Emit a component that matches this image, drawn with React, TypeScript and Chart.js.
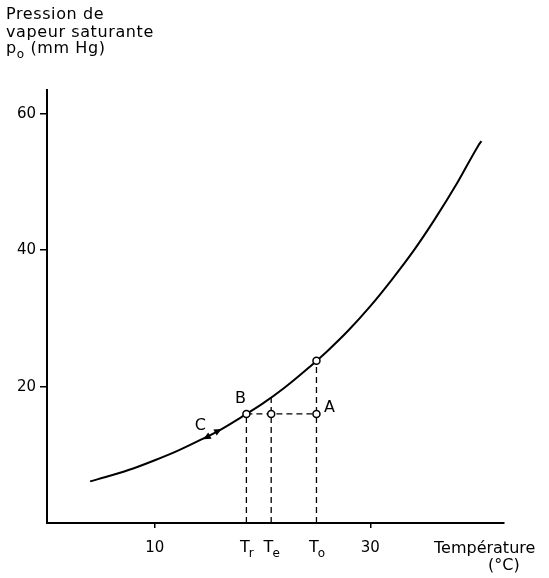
import React, { useEffect, useRef } from 'react';
import { Chart, registerables } from 'chart.js';

Chart.register(...registerables);

// Saturation vapour pressure curve
const temperatures = [4, 6, 8, 10, 12, 14, 16, 18, 20, 22, 24, 26, 28, 30, 32, 34, 36, 38, 40, 40.3];
const pressures = [6.1, 7.0, 8.0, 9.2, 10.5, 12.0, 13.6, 15.5, 17.5, 19.8, 22.4, 25.2, 28.3, 31.8, 35.7, 39.9, 44.6, 49.7, 55.3, 56.0];

// Axis ticks
const xTickValues = [10, 30];
const yTickValues = [20, 40, 60];

// Marked temperatures and pressures
const T_r = 18.5;
const T_e = 20.8;
const T_o = 25.0;
const p_A = 16.0;
const p_To = 23.8;
const p_TeCurve = 18.4;

const markerTicks = [
  { main: 'T', sub: 'r', x: T_r },
  { main: 'T', sub: 'e', x: T_e },
  { main: 'T', sub: 'o', x: T_o },
];

const circlePoints = [
  { x: T_r, y: p_A },
  { x: T_e, y: p_A },
  { x: T_o, y: p_A },
  { x: T_o, y: p_To },
];

// Arrowheads on the curve near C: [tailX, tailY, tipX, tipY]
const arrows = [
  [15.2, 12.9, 14.5, 12.3],
  [15.5, 13.2, 16.2, 13.8],
];

const FONT = '"DejaVu Sans", sans-serif';

export default function App() {
  const ref = useRef<HTMLCanvasElement | null>(null);

  useEffect(() => {
    const canvas = ref.current;
    if (!canvas) return;

    const annotations = {
      id: 'annotations',
      afterDraw(chart: any) {
        const ctx = chart.ctx as CanvasRenderingContext2D;
        const xs = chart.scales.x;
        const ys = chart.scales.y;
        const px = (v: number) => xs.getPixelForValue(v);
        const py = (v: number) => ys.getPixelForValue(v);
        ctx.save();
        ctx.fillStyle = '#000';
        ctx.strokeStyle = '#000';
        ctx.textBaseline = 'middle';
        ctx.textAlign = 'left';

        // Title (y axis)
        (ctx as any).letterSpacing = '0.6px';
        ctx.font = `16px ${FONT}`;
        ctx.fillText('Pression de', 6, 15);
        ctx.fillText('vapeur saturante', 6, 33);
        ctx.fillText('p', 6, 49);
        const pw = ctx.measureText('p').width;
        ctx.font = `12px ${FONT}`;
        ctx.fillText('o', 6 + pw, 55);
        const ow = ctx.measureText('o').width;
        ctx.font = `16px ${FONT}`;
        ctx.fillText(' (mm Hg)', 6 + pw + ow, 49);
        (ctx as any).letterSpacing = '0px';

        // X axis title
        ctx.fillText('Température', 434, 549);
        ctx.fillText('(°C)', 488, 566);

        // Marker tick labels with subscripts
        const labelY = 548;
        for (const m of markerTicks) {
          ctx.font = `16px ${FONT}`;
          const mw = ctx.measureText(m.main).width;
          ctx.font = `12px ${FONT}`;
          const sw = ctx.measureText(m.sub).width;
          const x0 = px(m.x) - (mw + sw) / 2 + 1;
          ctx.font = `16px ${FONT}`;
          ctx.fillText(m.main, x0, labelY);
          ctx.font = `12px ${FONT}`;
          ctx.fillText(m.sub, x0 + mw - 1, labelY + 6);
        }

        // Letters
        ctx.font = `16px ${FONT}`;
        ctx.textAlign = 'center';
        ctx.fillText('B', px(T_r) - 6, py(p_A) - 15);
        ctx.fillText('A', px(T_o) + 13, py(p_A) - 6);
        ctx.fillText('C', px(arrows[0][2]) - 3, py(arrows[0][3]) - 13);

        // Arrowheads
        for (const a of arrows) {
          const x1 = px(a[0]), y1 = py(a[1]), x2 = px(a[2]), y2 = py(a[3]);
          const ang = Math.atan2(y2 - y1, x2 - x1);
          const len = 7.5, half = 3.5;
          ctx.beginPath();
          ctx.moveTo(x2, y2);
          ctx.lineTo(x2 - len * Math.cos(ang) + half * Math.sin(ang), y2 - len * Math.sin(ang) - half * Math.cos(ang));
          ctx.lineTo(x2 - len * Math.cos(ang) - half * Math.sin(ang), y2 - len * Math.sin(ang) + half * Math.cos(ang));
          ctx.closePath();
          ctx.fill();
        }
        ctx.restore();
      },
    };

    const dashed = {
      borderColor: '#000',
      borderWidth: 1.3,
      borderDash: [6, 4],
      pointRadius: 0,
      fill: false,
      tension: 0,
      order: 2,
    };

    const chart = new Chart(canvas, {
      type: 'line',
      data: {
        datasets: [
          {
            data: circlePoints,
            showLine: false,
            pointRadius: 3.5,
            pointBackgroundColor: '#fff',
            pointBorderColor: '#000',
            pointBorderWidth: 1.5,
            order: 0,
          } as any,
          {
            data: temperatures.map((t, i) => ({ x: t, y: pressures[i] })),
            borderColor: '#000',
            borderWidth: 2,
            pointRadius: 0,
            cubicInterpolationMode: 'monotone',
            fill: false,
            order: 1,
          },
          { ...dashed, data: [{ x: T_r, y: p_A }, { x: T_o, y: p_A }] },
          { ...dashed, data: [{ x: T_r, y: 0 }, { x: T_r, y: p_A }] },
          { ...dashed, data: [{ x: T_e, y: 0 }, { x: T_e, y: p_TeCurve }] },
          { ...dashed, data: [{ x: T_o, y: 0 }, { x: T_o, y: p_To }] },
        ],
      },
      options: {
        animation: false,
        responsive: false,
        maintainAspectRatio: false,
        layout: { padding: { left: 0, top: 90, right: 45, bottom: 0 } },
        plugins: { legend: { display: false }, tooltip: { enabled: false } },
        scales: {
          x: {
            type: 'linear',
            min: 0,
            max: 42.4,
            position: 'bottom',
            grid: { display: true, drawOnChartArea: false, drawTicks: true, tickLength: 5, color: '#000', lineWidth: 1.5 },
            border: { display: true, color: '#000', width: 2 },
            ticks: { color: '#000', font: { family: FONT, size: 15 }, padding: 11 },
            afterBuildTicks: (s: any) => {
              s.ticks = xTickValues.map((v) => ({ value: v }));
            },
            afterFit: (s: any) => {
              s.height = 55;
            },
          },
          y: {
            type: 'linear',
            min: 0,
            max: 63.5,
            grid: { display: true, drawOnChartArea: false, drawTicks: true, tickLength: 7, color: '#000', lineWidth: 1.5 },
            border: { display: true, color: '#000', width: 2 },
            ticks: { color: '#000', font: { family: FONT, size: 15 }, padding: 4 },
            afterBuildTicks: (s: any) => {
              s.ticks = yTickValues.map((v) => ({ value: v }));
            },
            afterFit: (s: any) => {
              s.width = 47;
            },
          },
        },
      },
      plugins: [annotations],
    });
    return () => chart.destroy();
  }, []);

  return (
    <div style={{ position: 'fixed', left: 0, top: 0, width: 549, height: 578, background: '#fff' }}>
      <canvas ref={ref} width={549} height={578} style={{ width: 549, height: 578 }} />
    </div>
  );
}
